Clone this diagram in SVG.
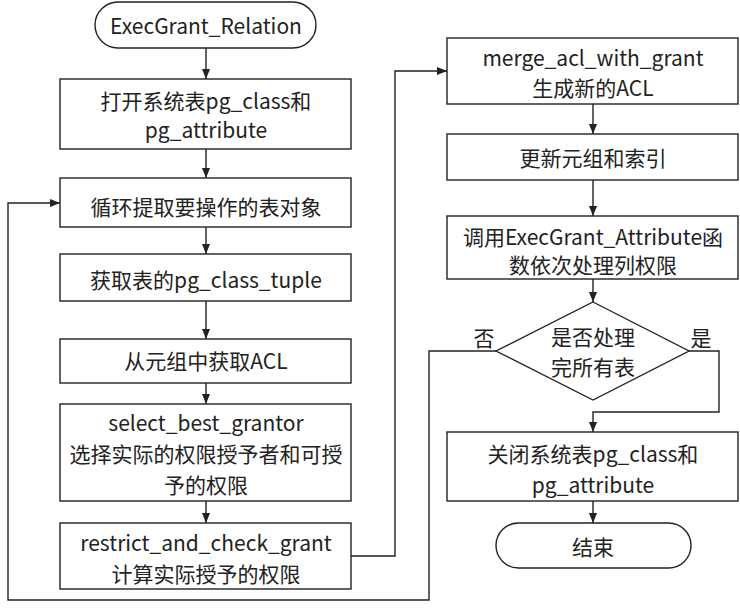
<svg xmlns="http://www.w3.org/2000/svg" width="740" height="609" viewBox="0 0 740 609">
<style>
.b{fill:#fff;stroke:#222;stroke-width:1.4}
.t{font-family:"Noto Sans CJK SC","Noto Sans",sans-serif;font-size:21px;fill:#222;text-anchor:middle;dominant-baseline:central}
.c{fill:none;stroke:#222;stroke-width:1.4}
</style>
<defs>
<marker id="ah" viewBox="0 0 10 10" refX="10" refY="5" markerWidth="10" markerHeight="10" markerUnits="userSpaceOnUse" orient="auto">
<path d="M0,1 L10,5 L0,9 Z" fill="#222"/>
</marker>
</defs>
<rect width="740" height="609" fill="#fff"/>
<g id="connectors">
<path class="c" d="M206,48 V79" marker-end="url(#ah)"/>
<path class="c" d="M206,149 V178" marker-end="url(#ah)"/>
<path class="c" d="M206,227 V254" marker-end="url(#ah)"/>
<path class="c" d="M206,301 V339" marker-end="url(#ah)"/>
<path class="c" d="M206,383 V404" marker-end="url(#ah)"/>
<path class="c" d="M206,501 V523" marker-end="url(#ah)"/>
<path class="c" d="M351,556 H395 V71 H447" marker-end="url(#ah)"/>
<path class="c" d="M593,104 V134" marker-end="url(#ah)"/>
<path class="c" d="M593,180 V216" marker-end="url(#ah)"/>
<path class="c" d="M593,279 V302" marker-end="url(#ah)"/>
<path class="c" d="M496,351 H429 V600 H8 V203 H60" marker-end="url(#ah)"/>
<path class="c" d="M689,351 H719 V412 H593 V432" marker-end="url(#ah)"/>
<path class="c" d="M593,501 V523" marker-end="url(#ah)"/>
</g>
<g id="start"><rect class="b" x="95" y="2" width="221" height="46" rx="23"/><text class="t" x="206" y="25">ExecGrant_Relation</text></g>
<g id="open"><rect class="b" x="60" y="79" width="291" height="70"/><text class="t" x="206" y="100">打开系统表pg_class和</text><text class="t" x="206" y="129">pg_attribute</text></g>
<g id="loop"><rect class="b" x="60" y="178" width="291" height="49"/><text class="t" x="206" y="206">循环提取要操作的表对象</text></g>
<g id="tuple"><rect class="b" x="60" y="254" width="291" height="47"/><text class="t" x="206" y="279">获取表的pg_class_tuple</text></g>
<g id="acl"><rect class="b" x="60" y="339" width="291" height="44"/><text class="t" x="206" y="360">从元组中获取ACL</text></g>
<g id="select"><rect class="b" x="60" y="404" width="291" height="97"/><text class="t" x="206" y="422">select_best_grantor</text><text class="t" x="206" y="453">选择实际的权限授予者和可授</text><text class="t" x="206" y="484">予的权限</text></g>
<g id="restrict"><rect class="b" x="60" y="523" width="291" height="66"/><text class="t" x="206" y="542">restrict_and_check_grant</text><text class="t" x="206" y="573">计算实际授予的权限</text></g>
<g id="merge"><rect class="b" x="447" y="38" width="291" height="66"/><text class="t" x="593" y="57">merge_acl_with_grant</text><text class="t" x="593" y="87">生成新的ACL</text></g>
<g id="update"><rect class="b" x="447" y="134" width="291" height="46"/><text class="t" x="593" y="157">更新元组和索引</text></g>
<g id="attr"><rect class="b" x="447" y="216" width="291" height="63"/><text class="t" x="593" y="236">调用ExecGrant_Attribute函</text><text class="t" x="593" y="264">数依次处理列权限</text></g>
<g id="decision"><polygon class="b" points="593,302 689,351 593,400 496,351"/><text class="t" x="593" y="336">是否处理</text><text class="t" x="593" y="366">完所有表</text><text class="t" x="484" y="337">否</text><text class="t" x="701" y="337">是</text></g>
<g id="close"><rect class="b" x="447" y="432" width="291" height="69"/><text class="t" x="593" y="453">关闭系统表pg_class和</text><text class="t" x="593" y="484">pg_attribute</text></g>
<g id="end"><rect class="b" x="496" y="523" width="195" height="45" rx="22.5"/><text class="t" x="593" y="546">结束</text></g>
</svg>
